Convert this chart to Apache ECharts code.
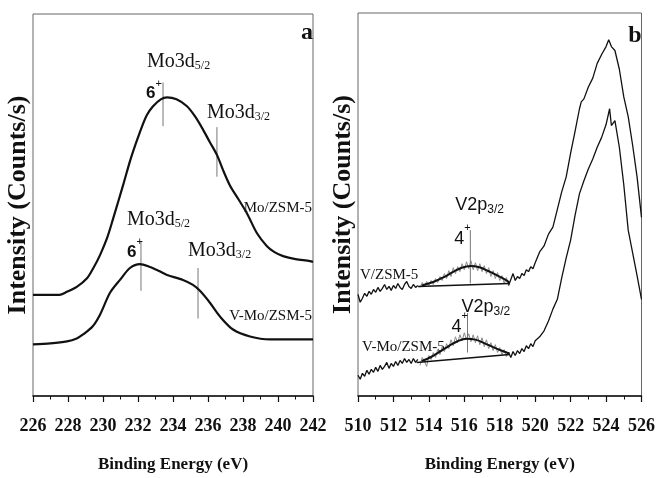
<!DOCTYPE html>
<html><head><meta charset="utf-8">
<script src="https://cdn.jsdelivr.net/npm/echarts@6/dist/echarts.min.js"></script>
<style>html,body{margin:0;padding:0;background:#fff}#c{width:658px;height:478px}</style>
</head><body><div id="c"></div><script>
// ---------- Panel a : Mo 3d region (binding energy eV, intensity a.u.) ----------
const moZsm5 = [[226,102],[227,102],[227.5,102],[227.94,105],[228.5,110],[229.1,119],[229.45,129],[229.83,142],[230.23,159],[230.6,180],[231.14,212],[231.6,240],[232.11,266],[232.5,283],[232.86,292],[233.3,299],[233.66,301],[234.2,299],[234.8,292],[235.25,282],[235.7,269],[236.1,256],[236.51,243],[236.9,226],[237.26,212],[237.75,198],[238.23,184],[238.8,164],[239.37,151],[239.8,145],[240.29,141],[241,138],[241.83,136],[242,135]];
const vMoZsm5Mo = [[226,52],[227,53],[227.94,55],[228.5,58],[228.86,62],[229.4,70],[229.83,82],[230.4,104],[230.97,117],[231.54,129],[232.11,133],[232.69,130],[233.2,126],[233.66,122],[234.57,117],[235.14,112],[235.54,106],[236.11,94],[236.69,80],[237.43,67],[238.4,60],[239.54,57],[240.5,57],[242,57]];
// peak marker lines: [energy, lower intensity, upper intensity]
const moMarkers = [[233.43,272,316],[236.51,221,271],[232.17,106,156],[235.43,78,129]];
const moTicks = {min:226, max:242, step:2};

// ---------- Panel b : V 2p region ----------
const vZsm5Raw = [[510,103],[510.125,95],[510.25,99],[510.375,104],[510.5,101],[510.625,106],[510.75,103],[510.875,108],[511,105],[511.125,110],[511.25,106],[511.375,109],[511.5,113],[511.625,108],[511.75,111],[511.875,107],[512,112],[512.125,109],[512.25,114],[512.375,110],[512.5,108],[512.625,113],[512.75,116],[512.875,111],[513,109],[513.125,113],[513.25,110],[513.375,112],[513.5,110],[513.625,115],[513.75,111],[513.875,116],[514,112],[514.125,117],[514.25,113],[514.375,119],[514.5,115],[514.625,121],[514.75,117],[514.875,124],[515,119],[515.125,127],[515.25,121],[515.375,130],[515.5,124],[515.625,131],[515.75,126],[515.875,134],[516,128],[516.125,136],[516.25,129],[516.375,137],[516.5,128],[516.625,135],[516.75,127],[516.875,134],[517,126],[517.125,132],[517.25,124],[517.375,130],[517.5,121],[517.625,127],[517.75,119],[517.875,125],[518,117],[518.125,122],[518.25,114],[518.375,120],[518.5,112],[518.625,118],[518.75,124],[518.875,117],[519,121],[519.125,119],[519.25,124],[519.375,122],[519.5,128],[519.625,126],[519.75,131],[519.875,129],[520,135],[520.25,146],[520.5,152],[520.75,164],[521,171],[521.25,189],[521.5,207],[521.75,222],[522,246],[522.25,268],[522.5,291],[522.6,298],[522.75,301],[523,313],[523.25,322],[523.5,337],[523.75,346],[524,354],[524.15,361],[524.3,354],[524.5,350],[524.75,331],[525,303],[525.25,283],[525.5,254],[525.75,222],[526,181]];
const vMoZsm5Raw = [[510,21],[510.125,17],[510.25,23],[510.375,20],[510.5,26],[510.625,22],[510.75,27],[510.875,24],[511,29],[511.125,25],[511.25,31],[511.375,27],[511.5,30],[511.625,34],[511.75,28],[511.875,33],[512,30],[512.125,35],[512.25,31],[512.375,36],[512.5,33],[512.625,38],[512.75,34],[512.875,37],[513,33],[513.125,38],[513.25,34],[513.375,37],[513.5,31],[513.625,39],[513.75,35],[513.875,30],[514,41],[514.125,37],[514.25,44],[514.375,39],[514.5,47],[514.625,42],[514.75,50],[514.875,45],[515,53],[515.125,48],[515.25,57],[515.375,51],[515.5,60],[515.625,54],[515.75,62],[515.875,56],[516,64],[516.125,57],[516.25,63],[516.375,55],[516.5,62],[516.625,54],[516.75,61],[516.875,52],[517,59],[517.125,50],[517.25,57],[517.375,48],[517.5,54],[517.625,46],[517.75,52],[517.875,44],[518,49],[518.125,42],[518.25,47],[518.375,40],[518.5,44],[518.625,39],[518.75,45],[518.875,41],[519,46],[519.125,43],[519.25,48],[519.375,45],[519.5,51],[519.625,48],[519.75,53],[519.875,50],[520,56],[520.25,60],[520.5,66],[520.75,76],[521,88],[521.25,98],[521.5,120],[521.75,140],[522,158],[522.25,183],[522.5,205],[522.75,218],[523,230],[523.25,240],[523.5,252],[523.75,262],[524,275],[524.2,291],[524.3,274],[524.5,279],[524.75,252],[525,214],[525.25,168],[525.5,145],[525.75,122],[526,98]];
const vZsm5Fit = [[513.6,112],[513.87,113.4],[514.35,116.2],[514.85,120.5],[515.35,125.5],[515.85,129.9],[516.35,131.7],[516.85,130.4],[517.35,126.6],[517.85,122.2],[518.35,117.5],[518.54,115]];
const vMoZsm5Fit = [[513.6,35.5],[514.12,39.5],[514.62,44.9],[515.12,50.6],[515.62,55.5],[516.12,58],[516.62,57.1],[517.12,53.6],[517.62,49.5],[518.12,45.8],[518.54,43]];
const vZsm5Base = [[513.39,111],[518.54,114]];
const vMoZsm5Base = [[513.31,34],[518.54,42]];
const vMarkers = [[516.34,114,168],[516.18,44,84]];
const vTicks = {min:510, max:526, step:2};
const fitRange = [513.4, 518.5];

// ---------- styling ----------
const SERIF = "'Liberation Serif','Times New Roman',serif";
const SANS = "'Liberation Sans',Arial,sans-serif";
const INK = '#111';

function xAxisCfg(idx, t) {
  return {
    type:'value', gridIndex:idx, min:t.min, max:t.max, interval:t.step,
    axisLine:{show:true, onZero:false, lineStyle:{color:INK, width:1.5}},
    axisTick:{show:true, inside:false, length:6, lineStyle:{color:INK, width:1.2}},
    minorTick:{show:true, splitNumber:2, length:3.5, lineStyle:{color:INK, width:1}},
    axisLabel:{margin:21, fontFamily:SERIF, fontWeight:'bold', fontSize:18, color:INK},
    splitLine:{show:false}, minorSplitLine:{show:false},
    name:'Binding Energy (eV)', nameLocation:'middle', nameGap:60,
    nameTextStyle:{fontFamily:SERIF, fontWeight:'bold', fontSize:17, color:INK}
  };
}
function yAxisCfg(idx, max) {
  return {
    type:'value', gridIndex:idx, min:0, max:max,
    axisLine:{show:false}, axisTick:{show:false}, axisLabel:{show:false}, splitLine:{show:false},
    name:'Intensity (Counts/s)', nameLocation:'middle', nameRotate:90, nameGap:2,
    nameTextStyle:{fontFamily:SERIF, fontWeight:'bold', fontSize:26, color:INK}
  };
}
function curve(data, idx, opts) {
  return Object.assign({
    type:'line', xAxisIndex:idx, yAxisIndex:idx, data:data, symbol:'none',
    silent:true, animation:false, z:3,
    lineStyle:{color:INK, width:2}
  }, opts || {});
}
const richMo = {
  m:{fontFamily:SERIF, fontSize:20, lineHeight:20, padding:[0,0,9,0], color:INK, verticalAlign:'top'},
  s:{fontFamily:SERIF, fontSize:12, lineHeight:12, color:INK, verticalAlign:'bottom'}
};
const richV = {
  m:{fontFamily:SANS, fontSize:18, lineHeight:20, padding:[0,0,10,0], color:INK, verticalAlign:'top'},
  s:{fontFamily:SANS, fontSize:12, lineHeight:12, color:INK, verticalAlign:'bottom'}
};
const richOx = {
  b:{fontFamily:SANS, fontSize:17, fontWeight:'bold', lineHeight:17, padding:[7,0,0,0], color:INK, verticalAlign:'top'},
  n:{fontFamily:SANS, fontSize:18, lineHeight:18, padding:[8,0,0,0], color:INK, verticalAlign:'top'},
  p:{fontFamily:SANS, fontSize:11, lineHeight:11, color:INK, verticalAlign:'top'}
};
function lab(text, rich, off) {
  return {show:true, position:'top', distance:0, align:'left', verticalAlign:'top',
          offset:off, formatter:text, rich:rich};
}
function marker(m, idx, topLab, botLab) {
  return {
    type:'line', xAxisIndex:idx, yAxisIndex:idx, silent:true, animation:false, z:2,
    symbol:'circle', symbolSize:0.1, showSymbol:true, itemStyle:{color:'rgba(0,0,0,0)'},
    lineStyle:{color:'#777', width:1},
    data:[{value:[m[0], m[2]], label:topLab}, {value:[m[0], m[1]], label:botLab}]
  };
}
const before = arr => arr.filter(p => p[0] <= fitRange[0] + 0.01);
const inside = arr => arr.filter(p => p[0] >= fitRange[0] - 0.01 && p[0] <= fitRange[1] + 0.01);
const after = arr => arr.filter(p => p[0] >= fitRange[1] - 0.01);

const series = [
  curve(moZsm5, 0, {smooth:0.3, lineStyle:{color:INK, width:2.2}}),
  curve(vMoZsm5Mo, 0, {smooth:0.3, lineStyle:{color:INK, width:2.2}}),
  marker(moMarkers[0], 0, lab('{m|Mo3d}{s|5/2}', richMo, [-16,-31]), lab('{b|6}{p|+}', richOx, [-17,-48])),
  marker(moMarkers[1], 0, lab('{m|Mo3d}{s|3/2}', richMo, [-10,-24]), {show:false}),
  marker(moMarkers[2], 0, lab('{m|Mo3d}{s|5/2}', richMo, [-14,-31]), lab('{b|6}{p|+}', richOx, [-14,-54])),
  marker(moMarkers[3], 0, lab('{m|Mo3d}{s|3/2}', richMo, [-10,-27]), {show:false}),

  curve(before(vZsm5Raw), 1, {lineStyle:{color:INK, width:1.3}}),
  curve(inside(vZsm5Raw), 1, {lineStyle:{color:'#8a8a8a', width:1}, z:2}),
  curve(after(vZsm5Raw), 1, {lineStyle:{color:INK, width:1.3}}),
  curve(before(vMoZsm5Raw), 1, {lineStyle:{color:INK, width:1.3}}),
  curve(inside(vMoZsm5Raw), 1, {lineStyle:{color:'#8a8a8a', width:1}, z:2}),
  curve(after(vMoZsm5Raw), 1, {lineStyle:{color:INK, width:1.3}}),
  curve(vZsm5Fit, 1, {smooth:0.4, lineStyle:{color:INK, width:2}, z:4}),
  curve(vMoZsm5Fit, 1, {smooth:0.4, lineStyle:{color:INK, width:2}, z:4}),
  curve(vZsm5Base, 1, {lineStyle:{color:INK, width:1.6}, z:4}),
  curve(vMoZsm5Base, 1, {lineStyle:{color:INK, width:1.6}, z:4}),
  marker(vMarkers[0], 1, lab('{m|V2p}{s|3/2}', richV, [-15,-34]), lab('{n|4}{p|+}', richOx, [-16,-61])),
  marker(vMarkers[1], 1, lab('{m|V2p}{s|3/2}', richV, [-6,-15]), lab('{n|4}{p|+}', richOx, [-16,-42]))
];

function txt(x, y, s, align, size, weight) {
  return {type:'text', x:x, y:y, silent:true,
    style:{text:s, fill:INK, font:(weight||'normal') + ' ' + size + 'px ' + SERIF,
           textAlign:align, textVerticalAlign:'middle'}};
}

const chart = echarts.init(document.getElementById('c'), null, {renderer:'canvas'});
chart.setOption({
  animation:false,
  backgroundColor:'#fff',
  grid:[
    {left:33, top:14, width:280, height:385, show:true, borderColor:'#666', borderWidth:1},
    {left:358, top:13, width:285, height:388, show:true, borderColor:'#666', borderWidth:1}
  ],
  xAxis:[xAxisCfg(0, moTicks), xAxisCfg(1, vTicks)],
  yAxis:[yAxisCfg(0, 385), yAxisCfg(1, 388)],
  series:series,
  graphic:[
    txt(307, 33, 'a', 'center', 24, 'bold'),
    txt(635, 36, 'b', 'center', 24, 'bold'),
    txt(312, 208, 'Mo/ZSM-5', 'right', 15),
    txt(312, 316, 'V-Mo/ZSM-5', 'right', 15),
    txt(360, 275, 'V/ZSM-5', 'left', 15),
    txt(362, 347, 'V-Mo/ZSM-5', 'left', 15)
  ]
});
</script></body></html>
